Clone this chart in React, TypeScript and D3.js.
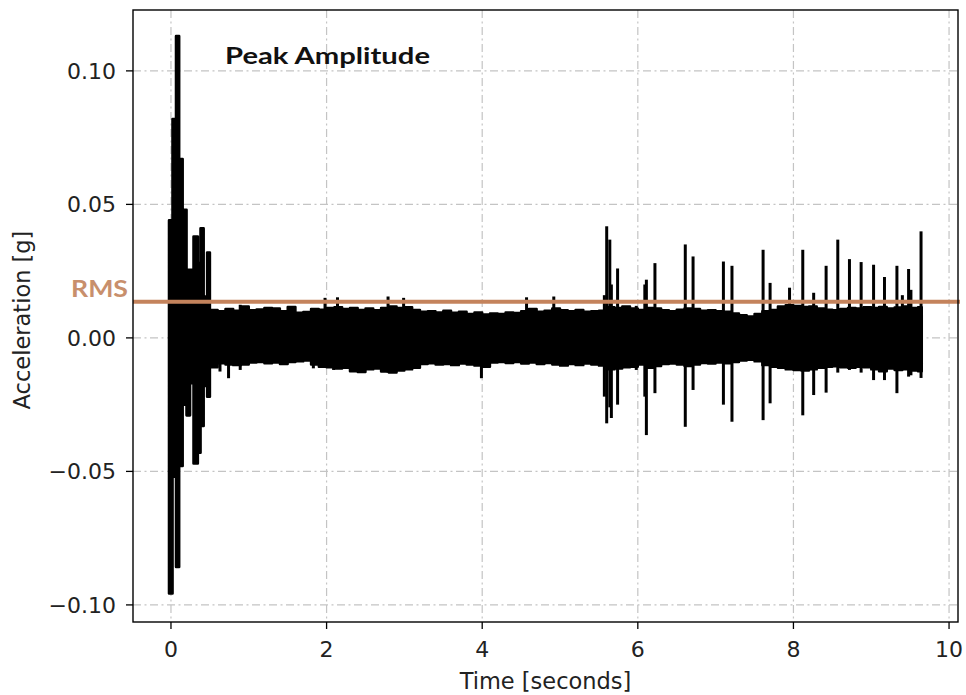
import React from 'react';
import * as d3 from 'd3';

const W = 966;
const H = 695;

const xTicks = [0, 2, 4, 6, 8, 10];
const xTickLabels = ['0', '2', '4', '6', '8', '10'];
const yTicks = [-0.1, -0.05, 0.0, 0.05, 0.1];
const yTickLabels = ['\u22120.10', '\u22120.05', '0.00', '0.05', '0.10'];

const rmsValue = 0.0135;

// initial impact burst (step envelope)
const burstTime = [-0.025, 0.02, 0.065, 0.105, 0.15, 0.2, 0.245, 0.29, 0.345, 0.38, 0.42, 0.465, 0.5];
const burstUpper = [0.044, 0.082, 0.113, 0.067, 0.048, 0.0255, 0.0255, 0.038, 0.028, 0.041, 0.0155, 0.032, 0.032];
const burstLower = [-0.0957, -0.052, -0.0858, -0.048, -0.025, -0.029, -0.017, -0.047, -0.043, -0.033, -0.018, -0.022, -0.022];

// background vibration envelope
const noiseTime = [
  0.5, 0.6, 0.7, 0.8, 0.9, 1.0, 1.1, 1.2, 1.3, 1.4, 1.5, 1.6, 1.7, 1.8, 1.9,
  2.0, 2.1, 2.2, 2.3, 2.4, 2.5, 2.6, 2.7, 2.8, 2.9, 3.0, 3.1, 3.2, 3.3, 3.4,
  3.5, 3.6, 3.7, 3.8, 3.9, 4.0, 4.1, 4.2, 4.3, 4.4, 4.5, 4.6, 4.7, 4.8, 4.9,
  5.0, 5.1, 5.2, 5.3, 5.4, 5.5, 5.6, 5.7, 5.8, 5.9, 6.0, 6.1, 6.2, 6.3, 6.4,
  6.5, 6.6, 6.7, 6.8, 6.9, 7.0, 7.1, 7.2, 7.3, 7.4, 7.5, 7.6, 7.7, 7.8, 7.9,
  8.0, 8.1, 8.2, 8.3, 8.4, 8.5, 8.6, 8.7, 8.8, 8.9, 9.0, 9.1, 9.2, 9.3, 9.4,
  9.5, 9.6, 9.65,
];
const noiseUpper = [
  0.0105, 0.01, 0.0108, 0.0102, 0.0118, 0.0104, 0.0107, 0.0112, 0.011, 0.01, 0.0116, 0.0094, 0.0097, 0.0108, 0.0106,
  0.0112, 0.0115, 0.0108, 0.0112, 0.0105, 0.011, 0.0104, 0.0112, 0.0118, 0.0112, 0.0115, 0.0105, 0.0098, 0.01, 0.0095,
  0.0102, 0.0094, 0.0098, 0.009, 0.0095, 0.0088, 0.0092, 0.009, 0.0095, 0.0093, 0.01, 0.0108, 0.0098, 0.0102, 0.011,
  0.0104, 0.01, 0.0105, 0.0098, 0.01, 0.0102, 0.0115, 0.0112, 0.0118, 0.011, 0.0105, 0.0112, 0.011, 0.0104, 0.01,
  0.0106, 0.011, 0.0108, 0.0102, 0.0104, 0.01, 0.0098, 0.0092, 0.0085, 0.008, 0.009, 0.01, 0.0105, 0.0118, 0.0122,
  0.012, 0.0116, 0.0118, 0.011, 0.0106, 0.0104, 0.0108, 0.0112, 0.011, 0.0115, 0.0112, 0.0116, 0.011, 0.0114, 0.0118,
  0.0112, 0.0115, 0.0115,
];
const noiseLower = [
  -0.011, -0.0095, -0.01, -0.0102, -0.01, -0.0092, -0.009, -0.0095, -0.0092, -0.0098, -0.009, -0.0088, -0.0085, -0.01, -0.0108,
  -0.011, -0.0115, -0.0112, -0.0125, -0.0128, -0.0118, -0.0115, -0.0126, -0.013, -0.0122, -0.0118, -0.0112, -0.0098, -0.0095, -0.01,
  -0.0098, -0.0102, -0.0096, -0.01, -0.0104, -0.0108, -0.0092, -0.009, -0.0094, -0.009, -0.0096, -0.0092, -0.0098, -0.0094, -0.01,
  -0.0104, -0.0098, -0.0102, -0.0096, -0.01, -0.0104, -0.0118, -0.0115, -0.011, -0.0108, -0.01, -0.0112, -0.0105, -0.0098, -0.0096,
  -0.01, -0.0105, -0.01, -0.0094, -0.0096, -0.0092, -0.0095, -0.009, -0.0085, -0.0082, -0.0088, -0.0102, -0.0108, -0.0112, -0.0118,
  -0.012, -0.0122, -0.0118, -0.0112, -0.0108, -0.0106, -0.011, -0.0112, -0.0108, -0.011, -0.0118, -0.0125, -0.0115, -0.012, -0.0118,
  -0.0122, -0.0125, -0.0125,
];

// individual spikes
const spikeTime = [
  0.63, 0.74, 0.89, 1.83, 1.98, 2.09, 2.14, 2.79, 2.99, 3.99, 4.57, 4.92,
  5.57, 5.6, 5.64, 5.66, 5.74, 5.98, 6.09, 6.11, 6.22, 6.61, 6.71, 7.1, 7.21, 7.61, 7.7, 7.95,
  8.12, 8.26, 8.42, 8.57, 8.72, 8.87, 9.03, 9.17, 9.33, 9.4, 9.48, 9.51, 9.64,
];
const spikeUpper = [
  0.009, 0.01, 0.0124, 0.01, 0.015, 0.011, 0.0152, 0.0155, 0.015, 0.009, 0.0152, 0.0155,
  0.016, 0.0418, 0.0368, 0.02, 0.026, 0.012, 0.02, 0.0218, 0.028, 0.035, 0.0305, 0.0286, 0.027, 0.033, 0.0206, 0.0188,
  0.033, 0.0169, 0.027, 0.0368, 0.0295, 0.0284, 0.0274, 0.0228, 0.027, 0.016, 0.0258, 0.018, 0.0399,
];
const spikeLower = [
  -0.0126, -0.0151, -0.012, -0.0114, -0.01, -0.012, -0.011, -0.013, -0.012, -0.0151, -0.009, -0.01,
  -0.022, -0.032, -0.026, -0.03, -0.025, -0.012, -0.022, -0.0364, -0.0207, -0.0333, -0.0195, -0.025, -0.0314, -0.0308, -0.0245, -0.012,
  -0.029, -0.0214, -0.0205, -0.013, -0.012, -0.013, -0.0158, -0.0158, -0.0207, -0.012, -0.0145, -0.014, -0.015,
];

const AX = { left: 133, right: 958, top: 10, bottom: 622 };
const RMS_COLOR = '#c4835c';
const GRID_COLOR = '#c4c4c4';
const FONT = "'DejaVu Sans', 'Open Sans', sans-serif";

export default function App() {
  const x = d3.scaleLinear().domain([-0.488, 10.115]).range([AX.left, AX.right]);
  const y = d3.scaleLinear().domain([-0.1064, 0.1228]).range([AX.bottom, AX.top]);

  const makeArea = (t: number[], hi: number[], lo: number[]) =>
    d3
      .area<number>()
      .x((i) => x(t[i]))
      .y0((i) => y(lo[i]))
      .y1((i) => y(hi[i]))
      .curve(d3.curveStepAfter)(d3.range(t.length)) || '';

  const burstPath = makeArea(burstTime, burstUpper, burstLower);
  const noisePath = makeArea(noiseTime, noiseUpper, noiseLower);

  return (
    <svg
      width={W}
      height={H}
      viewBox={`0 0 ${W} ${H}`}
      style={{ position: 'absolute', left: 0, top: 0, background: '#fff' }}
    >
      <rect x={0} y={0} width={W} height={H} fill="#fff" />
      <defs>
        <clipPath id="plotClip">
          <rect x={AX.left} y={AX.top} width={AX.right - AX.left} height={AX.bottom - AX.top} />
        </clipPath>
      </defs>

      {/* grid */}
      <g stroke={GRID_COLOR} strokeWidth={1.2} strokeDasharray="8,3.5,2,3.5" fill="none">
        {xTicks.map((t) => (
          <line key={'gx' + t} x1={x(t)} x2={x(t)} y1={AX.top} y2={AX.bottom} />
        ))}
        {yTicks.map((t) => (
          <line key={'gy' + t} x1={AX.left} x2={AX.right} y1={y(t)} y2={y(t)} />
        ))}
      </g>

      {/* signal */}
      <g clipPath="url(#plotClip)">
        <path d={burstPath} fill="#000" stroke="#000" strokeWidth={2.6} strokeLinejoin="round" />
        <path d={noisePath} fill="#000" stroke="#000" strokeWidth={2.4} strokeLinejoin="round" />
        <g stroke="#000" strokeWidth={3}>
          {spikeTime.map((t, i) => (
            <line key={'sp' + i} x1={x(t)} x2={x(t)} y1={y(spikeLower[i])} y2={y(spikeUpper[i])} />
          ))}
        </g>
      </g>

      {/* RMS line */}
      <line x1={AX.left} x2={W - 6} y1={y(rmsValue)} y2={y(rmsValue)} stroke={RMS_COLOR} strokeWidth={4} />

      {/* frame */}
      <rect
        x={AX.left}
        y={AX.top}
        width={AX.right - AX.left}
        height={AX.bottom - AX.top}
        fill="none"
        stroke="#000"
        strokeWidth={1.4}
      />

      {/* ticks */}
      <g stroke="#000" strokeWidth={1.3}>
        {xTicks.map((t) => (
          <line key={'tx' + t} x1={x(t)} x2={x(t)} y1={AX.bottom} y2={AX.bottom + 7} />
        ))}
        {yTicks.map((t) => (
          <line key={'ty' + t} x1={AX.left - 7} x2={AX.left} y1={y(t)} y2={y(t)} />
        ))}
      </g>

      <g fontFamily={FONT} fontSize={22} fill="#222">
        {xTicks.map((t, i) => (
          <text key={'lx' + t} x={x(t)} y={657} textAnchor="middle">
            {xTickLabels[i]}
          </text>
        ))}
        {yTicks.map((t, i) => (
          <text key={'ly' + t} x={116} y={y(t)} dy="0.36em" textAnchor="end">
            {yTickLabels[i]}
          </text>
        ))}
        <text x={(AX.left + AX.right) / 2} y={689} textAnchor="middle" fontSize={22.5}>
          Time [seconds]
        </text>
        <text
          transform={`translate(30, ${(AX.top + AX.bottom) / 2 + 4}) rotate(-90)`}
          textAnchor="middle"
          fontSize={22.5}
        >
          Acceleration [g]
        </text>
      </g>

      <text
        x={225}
        y={64}
        fontFamily="Lato, 'Open Sans', sans-serif"
        fontWeight={700}
        fontSize={23}
        fill="#111"
        textLength={205}
        lengthAdjust="spacingAndGlyphs"
      >
        Peak Amplitude
      </text>
      <text
        x={71}
        y={297}
        fontFamily="Lato, 'Open Sans', sans-serif"
        fontWeight={700}
        fontSize={23}
        fill="#c88f6c"
        textLength={57}
        lengthAdjust="spacingAndGlyphs"
      >
        RMS
      </text>
    </svg>
  );
}
